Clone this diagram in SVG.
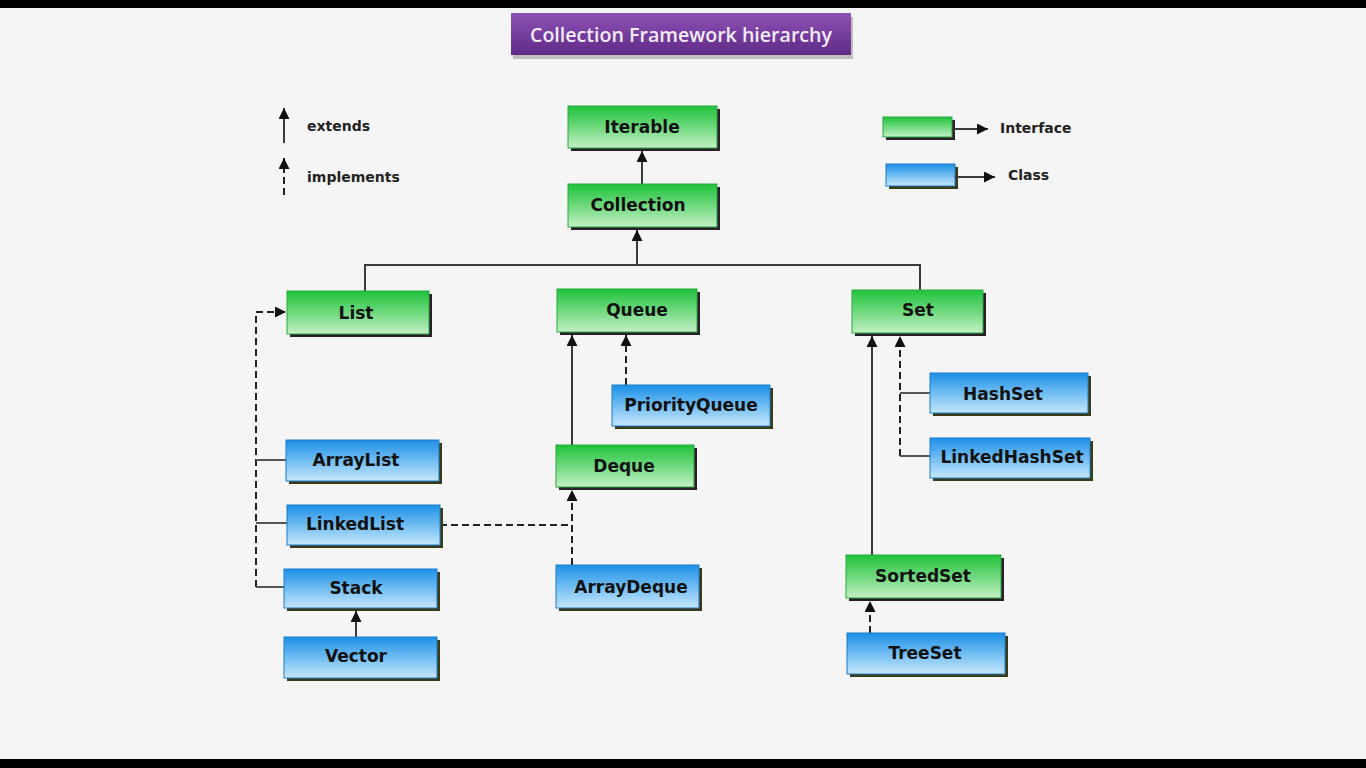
<svg xmlns="http://www.w3.org/2000/svg" width="1366" height="768" viewBox="0 0 1366 768">
<defs>
<linearGradient id="gGreen" x1="0" y1="0" x2="0" y2="1">
<stop offset="0" stop-color="#1fc23c"/>
<stop offset="0.5" stop-color="#6fd97e"/>
<stop offset="1" stop-color="#c4f0c6"/>
</linearGradient>
<linearGradient id="gBlue" x1="0" y1="0" x2="0" y2="1">
<stop offset="0" stop-color="#1d8fe6"/>
<stop offset="0.5" stop-color="#70bdf2"/>
<stop offset="1" stop-color="#c6e6fb"/>
</linearGradient>
<linearGradient id="gPurple" x1="0" y1="0" x2="0" y2="1">
<stop offset="0" stop-color="#8d52b6"/>
<stop offset="1" stop-color="#5f2a86"/>
</linearGradient>
<marker id="arr" viewBox="0 0 10 10" refX="10" refY="5" markerWidth="11" markerHeight="11" markerUnits="userSpaceOnUse" orient="auto">
<path d="M0,0 L10,5 L0,10 z" fill="#111"/>
</marker>
<style>
.iface{fill:url(#gGreen);stroke:#2aa83e;stroke-width:1}
.cls{fill:url(#gBlue);stroke:#1a7ccc;stroke-width:1}
.shI{fill:#2b1e2b}
.shC{fill:#3a3a14}
.lbl{font-family:"DejaVu Sans",Verdana,sans-serif;font-weight:bold;font-size:17px;fill:#111;text-anchor:middle;dominant-baseline:central}
.leg{font-family:"DejaVu Sans",Verdana,sans-serif;font-weight:bold;font-size:14px;fill:#222;dominant-baseline:central}
.solid{stroke:#3a3a3a;stroke-width:2;fill:none}
.dash{stroke:#222;stroke-width:2;fill:none;stroke-dasharray:7,4}
.stub{stroke:#555;stroke-width:2;fill:none}
</style>
</defs>
<rect x="0" y="0" width="1366" height="768" fill="#f5f5f5"/>
<rect x="0" y="0" width="1366" height="8" fill="#000"/>
<rect x="0" y="759" width="1366" height="9" fill="#000"/>

<g id="title">
<rect x="513" y="17" width="340" height="42" fill="#9a9a9a" opacity="0.6"/>
<rect x="511" y="13" width="340" height="42" fill="url(#gPurple)"/>
<text x="681" y="34" font-family="'Open Sans','Liberation Sans',sans-serif" font-weight="600" font-size="20" fill="#f3ecf7" text-anchor="middle" dominant-baseline="central" textLength="302" lengthAdjust="spacingAndGlyphs">Collection Framework hierarchy</text>
</g>

<g id="legend-relations">
<line x1="284" y1="143" x2="284" y2="108" class="solid" stroke="#222" marker-end="url(#arr)"/>
<text x="307" y="126" class="leg">extends</text>
<line x1="284" y1="195" x2="284" y2="158" class="dash" marker-end="url(#arr)"/>
<text x="307" y="177" class="leg">implements</text>
</g>

<g id="legend-types">
<rect x="886" y="120" width="69" height="20" class="shI"/>
<rect x="883" y="117" width="69" height="20" class="iface"/>
<line x1="952" y1="129" x2="988" y2="129" class="solid" marker-end="url(#arr)"/>
<text x="1000" y="128" class="leg">Interface</text>
<rect x="889" y="167" width="69" height="22" class="shC"/>
<rect x="886" y="164" width="69" height="22" class="cls"/>
<line x1="955" y1="177" x2="995" y2="177" class="solid" marker-end="url(#arr)"/>
<text x="1008" y="175" class="leg">Class</text>
</g>

<g id="connectors">
<line x1="642" y1="184" x2="642" y2="151" class="solid" marker-end="url(#arr)"/>
<line x1="637" y1="265" x2="637" y2="230" class="solid" marker-end="url(#arr)"/>
<path d="M365,291 V265 H920 V290" class="solid"/>
<path d="M256,587 V312 H286" class="dash" marker-end="url(#arr)"/>
<path d="M256,460 H286" class="stub"/>
<path d="M256,523 H287" class="stub"/>
<path d="M256,587 H284" class="stub"/>
<line x1="356" y1="637" x2="356" y2="611" class="solid" marker-end="url(#arr)"/>
<line x1="572" y1="445" x2="572" y2="335" class="solid" marker-end="url(#arr)"/>
<line x1="626" y1="385" x2="626" y2="335" class="dash" marker-end="url(#arr)"/>
<path d="M440,525 H572" class="dash"/>
<line x1="572" y1="565" x2="572" y2="490" class="dash" marker-end="url(#arr)"/>
<line x1="872" y1="555" x2="872" y2="336" class="solid" marker-end="url(#arr)"/>
<path d="M900,456 V336" class="dash" marker-end="url(#arr)"/>
<path d="M900,393 H930" class="stub"/>
<path d="M900,456 H930" class="stub"/>
<line x1="870" y1="633" x2="870" y2="601" class="dash" marker-end="url(#arr)"/>
</g>

<g id="Iterable">
<rect x="571" y="109" width="149" height="42" class="shI"/>
<rect x="568" y="106" width="149" height="42" class="iface"/>
<text x="642" y="127" class="lbl">Iterable</text>
</g>
<g id="Collection">
<rect x="571" y="187" width="149" height="43" class="shI"/>
<rect x="568" y="184" width="149" height="43" class="iface"/>
<text x="638" y="205" class="lbl">Collection</text>
</g>
<g id="List">
<rect x="290" y="294" width="142" height="43" class="shI"/>
<rect x="287" y="291" width="142" height="43" class="iface"/>
<text x="356" y="313" class="lbl">List</text>
</g>
<g id="Queue">
<rect x="560" y="292" width="140" height="43" class="shI"/>
<rect x="557" y="289" width="140" height="43" class="iface"/>
<text x="637" y="310" class="lbl">Queue</text>
</g>
<g id="Set">
<rect x="855" y="293" width="131" height="43" class="shI"/>
<rect x="852" y="290" width="131" height="43" class="iface"/>
<text x="918" y="310" class="lbl">Set</text>
</g>
<g id="PriorityQueue">
<rect x="615" y="388" width="158" height="41" class="shC"/>
<rect x="612" y="385" width="158" height="41" class="cls"/>
<text x="691" y="405" class="lbl">PriorityQueue</text>
</g>
<g id="Deque">
<rect x="559" y="448" width="138" height="42" class="shI"/>
<rect x="556" y="445" width="138" height="42" class="iface"/>
<text x="624" y="466" class="lbl">Deque</text>
</g>
<g id="ArrayList">
<rect x="289" y="443" width="153" height="41" class="shC"/>
<rect x="286" y="440" width="153" height="41" class="cls"/>
<text x="356" y="460" class="lbl">ArrayList</text>
</g>
<g id="LinkedList">
<rect x="290" y="508" width="153" height="40" class="shC"/>
<rect x="287" y="505" width="153" height="40" class="cls"/>
<text x="355" y="524" class="lbl">LinkedList</text>
</g>
<g id="Stack">
<rect x="287" y="572" width="153" height="39" class="shC"/>
<rect x="284" y="569" width="153" height="39" class="cls"/>
<text x="356" y="588" class="lbl">Stack</text>
</g>
<g id="Vector">
<rect x="287" y="640" width="153" height="41" class="shC"/>
<rect x="284" y="637" width="153" height="41" class="cls"/>
<text x="356" y="656" class="lbl">Vector</text>
</g>
<g id="ArrayDeque">
<rect x="559" y="568" width="143" height="43" class="shC"/>
<rect x="556" y="565" width="143" height="43" class="cls"/>
<text x="631" y="587" class="lbl">ArrayDeque</text>
</g>
<g id="HashSet">
<rect x="933" y="376" width="158" height="40" class="shC"/>
<rect x="930" y="373" width="158" height="40" class="cls"/>
<text x="1003" y="394" class="lbl">HashSet</text>
</g>
<g id="LinkedHashSet">
<rect x="933" y="441" width="160" height="40" class="shC"/>
<rect x="930" y="438" width="160" height="40" class="cls"/>
<text x="1012" y="457" class="lbl">LinkedHashSet</text>
</g>
<g id="SortedSet">
<rect x="849" y="558" width="155" height="43" class="shI"/>
<rect x="846" y="555" width="155" height="43" class="iface"/>
<text x="923" y="576" class="lbl">SortedSet</text>
</g>
<g id="TreeSet">
<rect x="850" y="636" width="158" height="41" class="shC"/>
<rect x="847" y="633" width="158" height="41" class="cls"/>
<text x="925" y="653" class="lbl">TreeSet</text>
</g>
</svg>
